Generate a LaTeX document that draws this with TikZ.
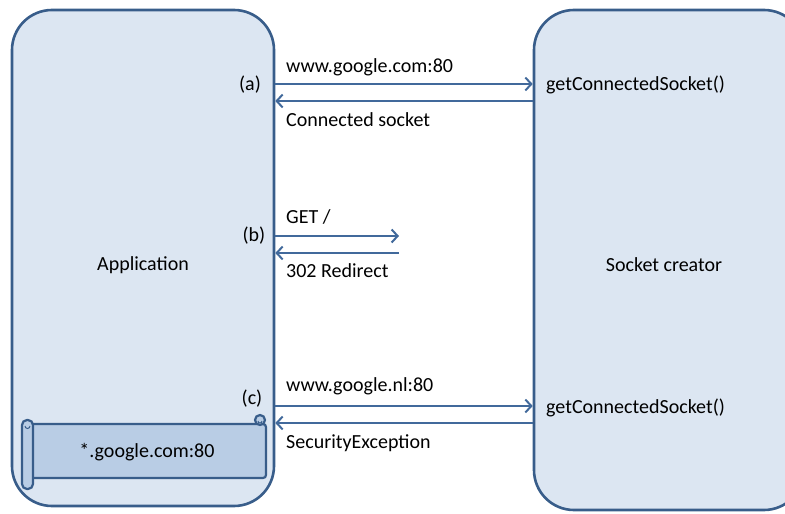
\documentclass[tikz,border=0pt]{standalone}
\usepackage{fontspec}
\setmainfont{Carlito}
\usetikzlibrary{arrows.meta,calc}
\definecolor{LaneFill}{HTML}{DCE6F2}
\definecolor{LaneLine}{HTML}{385D8A}
\definecolor{MsgClr}{HTML}{41699B}
\definecolor{ScrollFill}{HTML}{B9CDE5}

\tikzset{
  lane/.style={draw=LaneLine,fill=LaneFill,line width=2.6pt,rounded corners=40pt,inner sep=0pt},
  msg/.style={draw=MsgClr,line width=2pt,-{Straight Barb[length=6pt,width=13pt,line width=2pt]}},
  lbl/.style={font=\fontsize{20}{24}\selectfont,inner sep=0pt,text=black},
}

\begin{document}
\begin{tikzpicture}[x=1pt,y=-1pt]
\useasboundingbox (0,0) rectangle (785,514);

\node[lane,minimum width=262pt,minimum height=496pt] (app) at (143,258) {};
\node[lane,minimum width=270pt,minimum height=500pt] (sock) at (669,260) {};
\node[lbl] (appname) at (143,265) {Application};
\node[lbl] (sockname) at (664,265) {Socket creator};

% (a)
\node[lbl] (tagA) at (250,85) {(a)};
\draw[msg] (app.east |- 0,84) -- (sock.west |- 0,84);
\draw[msg] (sock.west |- 0,101) -- (app.east |- 0,101);
\node[lbl,anchor=west] (reqA) at (286,67) {www.google.com:80};
\node[lbl,anchor=west] (resA) at (286,120) {Connected socket};
\node[lbl,anchor=west] (callA) at (546,85) {getConnectedSocket()};

% (b)
\coordinate (srvB) at (399,236);
\node[lbl] (tagB) at (254,236) {(b)};
\draw[msg] (app.east |- srvB) -- (srvB);
\draw[msg] (srvB |- 0,253) -- (app.east |- 0,253);
\node[lbl,anchor=west] (reqB) at (286,217) {GET /};
\node[lbl,anchor=west] (resB) at (286,271) {302 Redirect};

% (c)
\node[lbl] (tagC) at (252,399) {(c)};
\draw[msg] (app.east |- 0,406) -- (sock.west |- 0,406);
\draw[msg] (sock.west |- 0,423) -- (app.east |- 0,423);
\node[lbl,anchor=west] (reqC) at (286,386) {www.google.nl:80};
\node[lbl,anchor=west] (resC) at (286,443) {SecurityException};
\node[lbl,anchor=west] (callC) at (546,408) {getConnectedSocket()};

% scroll
\begin{scope}[draw=LaneLine,fill=ScrollFill,line width=2.2pt]
  \filldraw[rounded corners=3pt] (30,424) -- (266,424) -- (266,478) -- (30,478);
  \filldraw (260,420) circle (5);
  \draw[line width=1pt] (258,421) arc (180:0:2);
  \filldraw[rounded corners=5pt] (22,420) rectangle (33,489);
  \draw[line width=1pt] (25,426) arc (180:0:2.5);
\end{scope}
\node[lbl] (scope) at (147,452) {*.google.com:80};
\end{tikzpicture}
\end{document}
